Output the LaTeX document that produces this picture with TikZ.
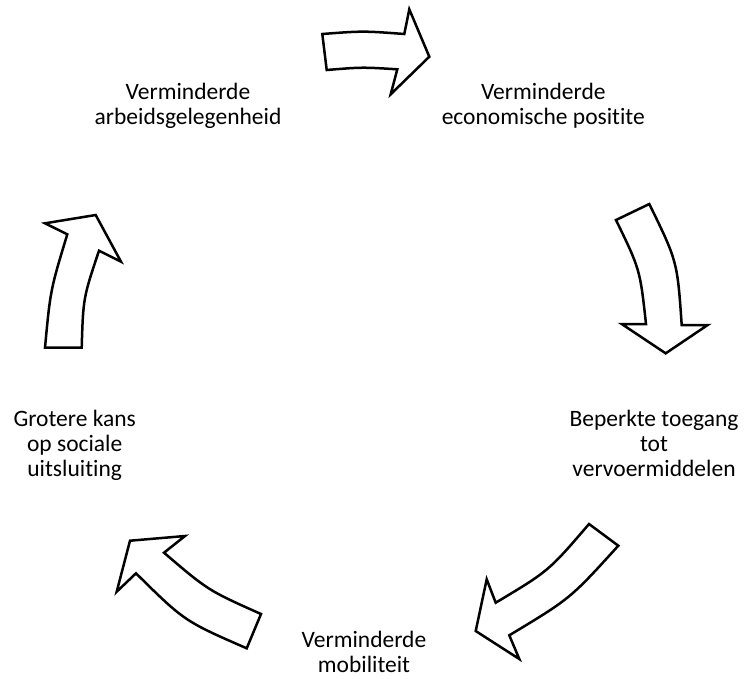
\documentclass[tikz,border=0pt]{standalone}
\usepackage{fontspec}
\setmainfont{Carlito}[Ligatures=NoCommon]
\begin{document}
\begin{tikzpicture}[x=1pt,y=-1pt,
  cyc/.style={draw=black, line width=2.5pt, fill=white, line join=miter},
  lbl/.style={align=center, font=\fontsize{23.5}{25}\selectfont, inner sep=0pt, anchor=base}]
\useasboundingbox (0,0) rectangle (749,678);
% labels (anchor = baseline of last line)
\node[lbl] (arb) at (188,124.5) {Verminderde\\arbeidsgelegenheid};
\node[lbl] (eco) at (543.3,124.5) {Verminderde\\economische positite};
\node[lbl] (toe) at (654,476.7) {Beperkte toegang\\tot\\vervoermiddelen};
\node[lbl] (mob) at (364,672.5) {Verminderde\\mobiliteit};
\node[lbl] (soc) at (74.7,476.7) {Grotere kans\\op sociale\\uitsluiting};
% arrows
\draw[cyc] (322.3,34) .. controls (363,30.9) .. (404.3,34) -- (409.3,9.3) -- (429.3,56.7) -- (390.7,94.3) -- (397.3,69.3) .. controls (362,67.1) .. (326.7,70) -- cycle;
\draw[cyc] (616,220) -- (649.3,204) .. controls (677.3,261.3) .. (681.7,325) -- (707.7,325) -- (665.7,353.3) -- (621.7,324) -- (646,324) .. controls (640,269.4) .. (616,220) -- cycle;
\draw[cyc] (589,524) -- (618.3,545.7) .. controls (570.4,598.5) .. (509.3,635.3) -- (519.3,659) -- (475.7,631) -- (486.7,579.3) -- (495.7,602.7) .. controls (548.7,571) .. (589,524) -- cycle;
\draw[cyc] (261,614) -- (246.7,648.3) .. controls (184.4,621.1) .. (136,573.3) -- (116.7,591.7) -- (130,540.7) -- (185,536) -- (164,552.7) .. controls (208.1,590.4) .. (261,614) -- cycle;
\draw[cyc] (45,347.7) -- (81.7,347.7) .. controls (83.2,297.9) .. (99,250.7) -- (121,261.7) -- (95.7,215) -- (45,223.3) -- (67.3,234.3) .. controls (50.4,289.9) .. (45,347.7) -- cycle;
\end{tikzpicture}
\end{document}
